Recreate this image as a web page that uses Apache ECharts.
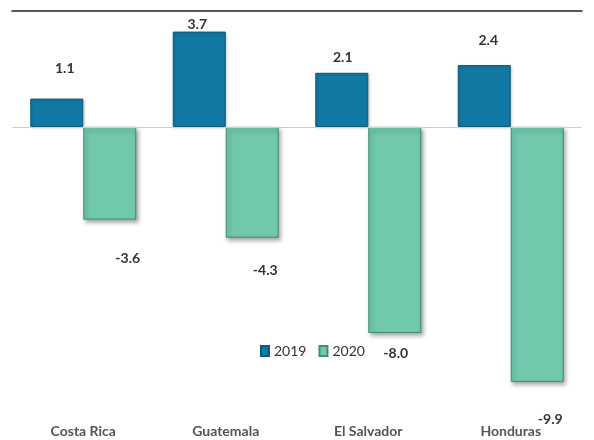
<!DOCTYPE html>
<html>
<head>
<meta charset="utf-8">
<script src="https://cdn.jsdelivr.net/npm/echarts@6/dist/echarts.min.js"></script>
<style>
html,body{margin:0;padding:0;background:#fff;}
#chart{width:594px;height:440px;}
</style>
</head>
<body>
<div id="chart"></div>
<script>
const categories = ['Costa Rica', 'Guatemala', 'El Salvador', 'Honduras'];
const seriesNames = ['2019', '2020'];
const values2019 = [1.1, 3.7, 2.1, 2.4];
const values2020 = [-3.6, -4.3, -8.0, -9.9];

// label placement tweaks: [dx, distance]
const labelShift2019 = [[8, 23], [-2, 0], [1, 8], [4, 18]];
const labelShift2020 = [[18, 32], [13, 26], [1, 13], [13, 31]];

const FONT = 'Lato, "Open Sans", sans-serif';

function buildData(values, shifts) {
  return values.map((v, i) => ({
    value: v,
    label: { offset: [shifts[i][0], 0], distance: shifts[i][1] }
  }));
}

const chart = echarts.init(document.getElementById('chart'), null, { renderer: 'canvas' });
chart.setOption({
  animation: false,
  backgroundColor: '#ffffff',
  grid: { left: 12, right: 12, top: 11, bottom: 22, containLabel: false },
  legend: {
    data: seriesNames,
    left: 255,
    top: 339,
    icon: 'rect',
    itemWidth: 8,
    itemHeight: 10,
    itemGap: 12,
    textStyle: { fontFamily: FONT, fontSize: 14, color: '#333' }
  },
  xAxis: [
    {
      type: 'category',
      data: categories,
      position: 'bottom',
      axisLine: { show: false, onZero: false },
      axisTick: { show: false },
      axisLabel: { margin: 6, fontFamily: FONT, fontSize: 14, fontWeight: 'bold', color: '#555' }
    },
    {
      type: 'category',
      data: categories,
      position: 'top',
      axisLine: { show: true, onZero: false, lineStyle: { color: '#222', width: 1.5 } },
      axisTick: { show: false },
      axisLabel: { show: false }
    }
  ],
  yAxis: {
    type: 'value',
    min: -11.3,
    max: 4.5,
    show: false,
    splitLine: { show: false }
  },
  series: [
    {
      name: '2019',
      type: 'bar',
      data: buildData(values2019, labelShift2019),
      barWidth: 53,
      barGap: '0%',
      itemStyle: {
        color: '#1279a4',
        borderColor: '#0b5a7c',
        borderWidth: 1,
        shadowColor: 'rgba(0,0,0,0.25)',
        shadowBlur: 3,
        shadowOffsetX: 1,
        shadowOffsetY: 1
      },
      label: {
        show: true,
        position: 'top',
        formatter: p => p.value.toFixed(1),
        fontFamily: FONT,
        fontSize: 14,
        fontWeight: 'bold',
        color: '#333'
      },
      markLine: {
        silent: true,
        symbol: 'none',
        label: { show: false },
        lineStyle: { color: '#cfcfcf', width: 1, type: 'solid' },
        data: [{ yAxis: 0 }]
      },
      z: 3
    },
    {
      name: '2020',
      type: 'bar',
      data: buildData(values2020, labelShift2020),
      barWidth: 53,
      barGap: '0%',
      itemStyle: {
        color: '#70c8ad',
        borderColor: '#3f8e72',
        borderWidth: 1,
        shadowColor: 'rgba(0,0,0,0.35)',
        shadowBlur: 4,
        shadowOffsetX: 2,
        shadowOffsetY: 3
      },
      label: {
        show: true,
        position: 'bottom',
        formatter: p => p.value.toFixed(1),
        fontFamily: FONT,
        fontSize: 14,
        fontWeight: 'bold',
        color: '#333'
      },
      z: 2
    }
  ]
});
</script>
</body>
</html>
